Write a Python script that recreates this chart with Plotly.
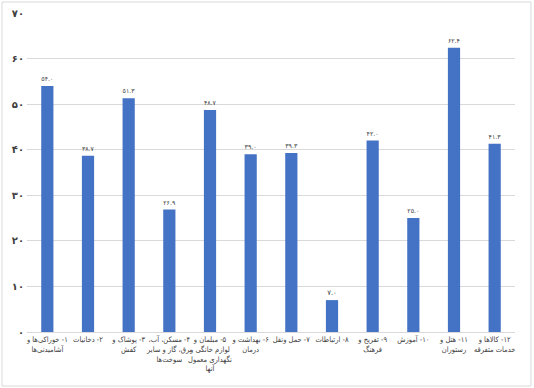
import plotly.graph_objects as go

categories = [
    "۱- خوراکی‌ها و<br>آشامیدنی‌ها",
    "۲- دخانیات",
    "۳- پوشاک و<br>کفش",
    "۴- مسکن، آب،<br>برق، گاز و سایر<br>سوخت‌ها",
    "۵- مبلمان و<br>لوازم خانگی و<br>نگهداری معمول<br>آنها",
    "۶- بهداشت و<br>درمان",
    "۷- حمل ونقل",
    "۸- ارتباطات",
    "۹- تفریح و<br>فرهنگ",
    "۱۰- آموزش",
    "۱۱- هتل و<br>رستوران",
    "۱۲- کالاها و<br>خدمات متفرقه",
]
values = [54.0, 38.7, 51.3, 26.9, 48.7, 39.0, 39.3, 7.0, 42.0, 25.0, 62.4, 41.3]
tick_values = [0, 10, 20, 30, 40, 50, 60, 70]

FA = str.maketrans("0123456789", "۰۱۲۳۴۵۶۷۸۹")


def fa(s):
    return s.translate(FA)


def rtl(label):
    return "<br>".join("\u202b" + part + "\u202c" for part in label.split("<br>"))


x_labels = [rtl(c) for c in categories]
bar_text = [fa(f"{v:.1f}") for v in values]
tick_text = [fa(str(t)) for t in tick_values]

fig = go.Figure(
    go.Bar(
        x=x_labels,
        y=values,
        text=bar_text,
        textposition="outside",
        textfont=dict(size=7, color="#404040", family="DejaVu Sans"),
        marker=dict(color="#4472C4", line=dict(width=0)),
        width=0.3,
        cliponaxis=False,
    )
)

L, R, T, B = 27, 19, 13, 56
W, H = 534, 388
pw, ph = W - L - R, H - T - B

fig.update_layout(
    width=W,
    height=H,
    margin=dict(l=L, r=R, t=T, b=B, autoexpand=False),
    plot_bgcolor="white",
    paper_bgcolor="white",
    showlegend=False,
    font=dict(family="DejaVu Sans Condensed, DejaVu Sans", color="#595959"),
    shapes=[
        dict(
            type="rect",
            xref="paper",
            yref="paper",
            x0=(2 - L) / pw,
            x1=(531 - L) / pw,
            y0=(T + ph - 386) / ph,
            y1=(T + ph - 2) / ph,
            line=dict(color="#d9d9d9", width=1),
            fillcolor="rgba(0,0,0,0)",
            layer="below",
        )
    ],
)
fig.update_xaxes(
    tickfont=dict(size=7.5, color="#404040", family="DejaVu Sans Condensed, DejaVu Sans"),
    showline=True,
    linecolor="#d9d9d9",
    tickangle=0,
    automargin=False,
)
fig.update_yaxes(
    range=[0, 70],
    tickvals=tick_values,
    ticktext=tick_text,
    tickfont=dict(size=10, color="#404040", family="DejaVu Sans", weight="bold"),
    gridcolor="#d9d9d9",
    zeroline=False,
    ticklabelstandoff=2,
    automargin=False,
)

fig.write_html(
    "out.html",
    config={"displayModeBar": False},
    post_script="document.body.style.margin='0';document.body.style.overflow='hidden';",
)
